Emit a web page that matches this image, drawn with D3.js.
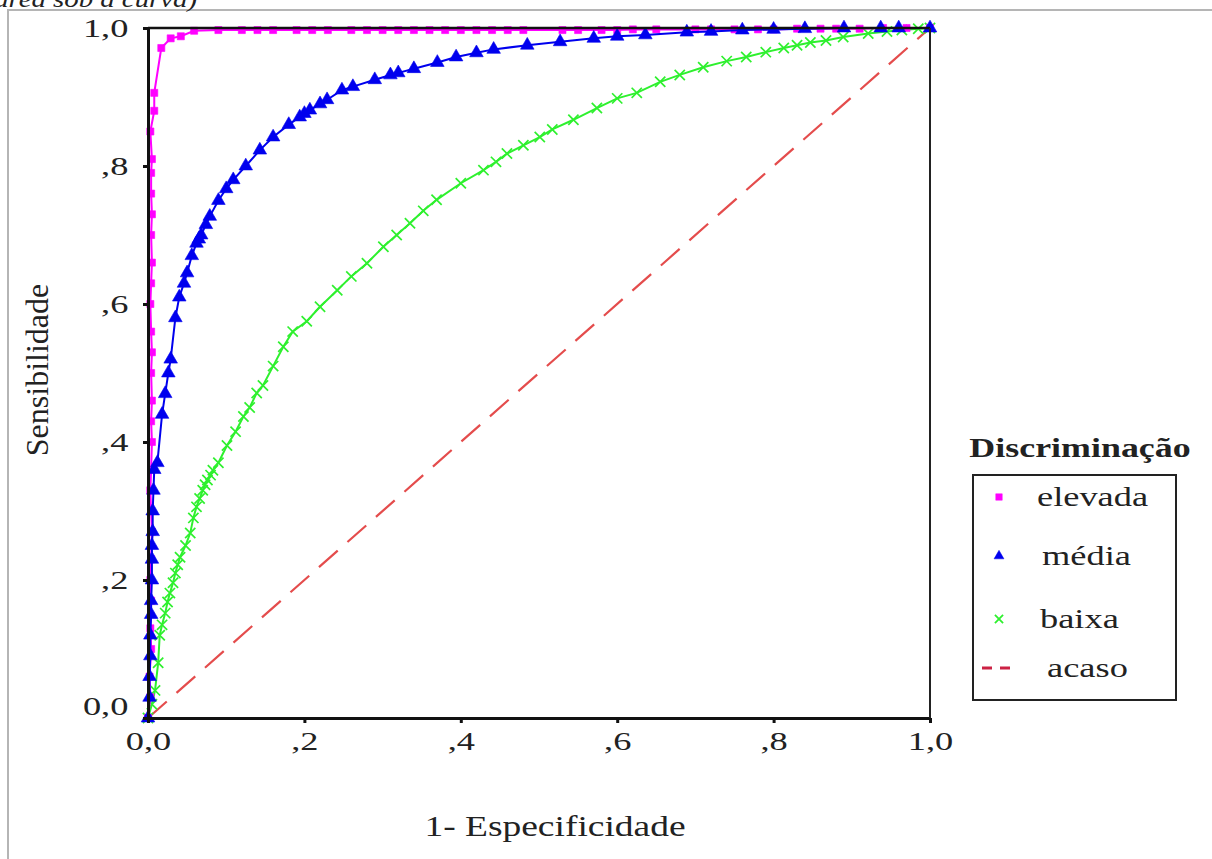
<!DOCTYPE html>
<html>
<head>
<meta charset="utf-8">
<script src="https://cdn.jsdelivr.net/npm/d3@7"></script>
<style>
  body { margin: 0; background: #fff; }
  text { font-family: "Liberation Serif", "Times New Roman", serif; fill: #222; }
</style>
</head>
<body>
<div id="chart"></div>
<script>
// ROC curves, [1-especificidade, sensibilidade]
var elevada = [
    [0, 0], [0.003, 0.03], [0.002, 0.06], [0.004, 0.1], [0.003, 0.13], [0.004, 0.17], [0.003, 0.2],
    [0.004, 0.23], [0.005, 0.27], [0.004, 0.3], [0.003, 0.33], [0.004, 0.36], [0.005, 0.4], [0.004, 0.43],
    [0.005, 0.46], [0.004, 0.5], [0.005, 0.53], [0.004, 0.56], [0.003, 0.6], [0.004, 0.63], [0.005, 0.66],
    [0.004, 0.7], [0.005, 0.73], [0.004, 0.76], [0.004, 0.79], [0.005, 0.81], [0.003, 0.85], [0.008, 0.88],
    [0.008, 0.906], [0.017, 0.971], [0.029, 0.985], [0.042, 0.988], [0.059, 0.996], [0.09, 0.997],
    [0.12, 0.997], [0.14, 0.997], [0.16, 0.997], [0.19, 0.997], [0.21, 0.997], [0.23, 0.997], [0.26, 0.997],
    [0.28, 0.997], [0.3, 0.997], [0.32, 0.997], [0.34, 0.997], [0.36, 0.997], [0.38, 0.997], [0.4, 0.997],
    [0.42, 0.997], [0.44, 0.997], [0.46, 0.997], [0.48, 0.997], [0.53, 0.997], [0.55, 0.997], [0.58, 0.997],
    [0.6, 0.997], [0.62, 0.998], [0.65, 0.998], [0.7, 0.998], [0.72, 0.998], [0.75, 0.998], [0.78, 0.998],
    [0.8, 0.998], [0.83, 0.999], [0.86, 0.999], [0.88, 0.999], [0.91, 0.999], [0.94, 1], [0.97, 1], [1, 1]
];

var media = [
    [0, 0], [0.002, 0.03], [0.002, 0.06], [0.003, 0.09], [0.003, 0.12], [0.004, 0.15], [0.004, 0.17],
    [0.005, 0.2], [0.005, 0.23], [0.005, 0.25], [0.006, 0.27], [0.006, 0.3], [0.007, 0.33], [0.008, 0.36],
    [0.012, 0.37], [0.018, 0.44], [0.022, 0.47], [0.026, 0.5], [0.029, 0.52], [0.035, 0.58], [0.04, 0.61],
    [0.046, 0.63], [0.05, 0.645], [0.056, 0.67], [0.062, 0.688], [0.065, 0.694], [0.068, 0.7], [0.074, 0.715],
    [0.079, 0.727], [0.09, 0.75], [0.1, 0.767], [0.109, 0.78], [0.125, 0.8], [0.143, 0.823], [0.16, 0.842],
    [0.18, 0.86], [0.194, 0.871], [0.2, 0.876], [0.207, 0.881], [0.22, 0.89], [0.229, 0.896], [0.248, 0.91],
    [0.262, 0.915], [0.29, 0.925], [0.31, 0.932], [0.32, 0.935], [0.34, 0.941], [0.37, 0.95], [0.394, 0.958],
    [0.42, 0.964], [0.442, 0.969], [0.485, 0.975], [0.527, 0.98], [0.57, 0.985], [0.6, 0.988], [0.636, 0.99],
    [0.689, 0.994], [0.72, 0.995], [0.76, 0.997], [0.8, 0.998], [0.84, 0.999], [0.89, 1], [0.937, 1],
    [0.96, 1], [1, 1]
];

var baixa = [
    [0, 0], [0.005, 0.02], [0.009, 0.04], [0.013, 0.08], [0.015, 0.12], [0.018, 0.135], [0.022, 0.152],
    [0.025, 0.168], [0.028, 0.181], [0.032, 0.196], [0.035, 0.21], [0.038, 0.222], [0.041, 0.233],
    [0.048, 0.25], [0.054, 0.268], [0.058, 0.29], [0.062, 0.306], [0.066, 0.318], [0.07, 0.33],
    [0.073, 0.338], [0.076, 0.345], [0.08, 0.352], [0.083, 0.359], [0.09, 0.37], [0.101, 0.395],
    [0.112, 0.415], [0.122, 0.437], [0.13, 0.45], [0.139, 0.471], [0.147, 0.482], [0.16, 0.51], [0.173, 0.538],
    [0.185, 0.56], [0.203, 0.575], [0.22, 0.596], [0.242, 0.62], [0.26, 0.64], [0.28, 0.659], [0.301, 0.683],
    [0.318, 0.7], [0.335, 0.717], [0.352, 0.735], [0.369, 0.751], [0.4, 0.775], [0.429, 0.794], [0.445, 0.806],
    [0.459, 0.818], [0.48, 0.83], [0.501, 0.842], [0.517, 0.853], [0.544, 0.867], [0.574, 0.884], [0.6, 0.898],
    [0.625, 0.906], [0.655, 0.922], [0.68, 0.932], [0.71, 0.943], [0.74, 0.952], [0.765, 0.958], [0.79, 0.965],
    [0.813, 0.971], [0.83, 0.975], [0.847, 0.979], [0.867, 0.982], [0.889, 0.987], [0.921, 0.992],
    [0.945, 0.995], [0.964, 0.997], [0.985, 0.999], [1, 1]
];

var acaso = [[0, 0], [1, 1]];

var tickValues = [0, 0.2, 0.4, 0.6, 0.8, 1];
var tickLabels = ["0,0", ",2", ",4", ",6", ",8", "1,0"];

var legendNames = ["elevada", "média", "baixa", "acaso"];
var colors = {elevada: "#ff00ff", media: "#0000ee", baixa: "#2ef02e", acaso: "#e44c4c"};

var W = 1212, H = 859;
var svg = d3.select("#chart").append("svg")
    .attr("width", W)
    .attr("height", H);

// page frame
svg.append("rect")
    .attr("x", 8).attr("y", 10)
    .attr("width", W + 20).attr("height", H + 20)
    .attr("fill", "none")
    .attr("stroke", "#b5b5b5")
    .attr("stroke-width", 2);

// caption cut at the top of the page
svg.append("text")
    .attr("transform", "translate(197,7) scale(1.2,1)")
    .attr("text-anchor", "end")
    .style("font-style", "italic")
    .style("font-size", "24px")
    .text("(área sob a curva)");

var x = d3.scaleLinear().domain([0, 1]).range([148, 930]);
var y = d3.scaleLinear().domain([0, 1]).range([718, 28]);

var line = d3.line()
    .x(function (d) { return x(d[0]); })
    .y(function (d) { return y(d[1]); });

// chance line
svg.append("path")
    .datum(acaso)
    .attr("d", line)
    .attr("fill", "none")
    .attr("stroke", colors.acaso)
    .attr("stroke-width", 2.2)
    .attr("stroke-dasharray", "25,13");

function drawSeries(data, color, symbol, size, filled) {
    svg.append("path")
        .datum(data)
        .attr("d", line)
        .attr("fill", "none")
        .attr("stroke", color)
        .attr("stroke-width", 2);

    svg.append("g").selectAll("path")
        .data(data)
        .enter()
        .append("path")
        .attr("transform", function (d) {
            return "translate(" + x(d[0]) + "," + y(d[1]) + ")";
        })
        .attr("d", d3.symbol().type(symbol).size(size))
        .attr("fill", filled ? color : "none")
        .attr("stroke", color)
        .attr("stroke-width", filled ? 0.6 : 1.7);
}

drawSeries(baixa, colors.baixa, d3.symbolX, 70, false);
drawSeries(elevada, colors.elevada, d3.symbolSquare, 50, true);
drawSeries(media, colors.media, d3.symbolTriangle, 80, true);

// axes
var yAxis = d3.axisLeft(y)
    .tickValues(tickValues)
    .tickSize(5)
    .tickSizeOuter(0)
    .tickFormat(function (d, i) { return tickLabels[i]; });

var gy = svg.append("g")
    .attr("transform", "translate(" + x(0) + ",0)")
    .call(yAxis);
gy.select(".domain").attr("stroke-width", 3).attr("stroke", "#111");
gy.selectAll(".tick line").attr("stroke-width", 3).attr("stroke", "#111");
gy.selectAll(".tick text")
    .attr("x", -14)
    .attr("dy", function (d) { return d === 0 ? "-0.15em" : "0.32em"; })
    .attr("transform", "scale(1.4,1)")
    .style("font-size", "26px")
    .style("font-family", "Liberation Serif, serif")
    .attr("fill", "#333");

var xAxis = d3.axisBottom(x)
    .tickValues(tickValues)
    .tickSize(5)
    .tickSizeOuter(0)
    .tickFormat(function (d, i) { return tickLabels[i]; });

var gx = svg.append("g")
    .attr("transform", "translate(0," + y(0) + ")")
    .call(xAxis);
gx.select(".domain").attr("stroke-width", 3).attr("stroke", "#111");
gx.selectAll(".tick line").attr("stroke-width", 3).attr("stroke", "#111");
gx.selectAll(".tick text")
    .attr("y", 14)
    .attr("x", 0)
    .attr("transform", "scale(1.4,1)")
    .style("font-size", "26px")
    .style("font-family", "Liberation Serif, serif")
    .attr("fill", "#333");

// top and right edges of the box
svg.append("line")
    .attr("x1", x(0)).attr("x2", x(1))
    .attr("y1", y(1)).attr("y2", y(1))
    .attr("stroke", "#111").attr("stroke-width", 2.5);
svg.append("line")
    .attr("x1", x(1)).attr("x2", x(1))
    .attr("y1", y(1)).attr("y2", y(0))
    .attr("stroke", "#222").attr("stroke-width", 2);

// axis titles
svg.append("text")
    .attr("transform", "translate(555,836) scale(1.25,1)")
    .attr("text-anchor", "middle")
    .style("font-size", "30px")
    .text("1- Especificidade");

svg.append("text")
    .attr("transform", "translate(48,370) rotate(-90)")
    .attr("text-anchor", "middle")
    .style("font-size", "32px")
    .text("Sensibilidade");

// legend
svg.append("text")
    .attr("transform", "translate(1080,457) scale(1.33,1)")
    .attr("text-anchor", "middle")
    .style("font-size", "27px")
    .style("font-weight", "bold")
    .text("Discriminação");

svg.append("rect")
    .attr("x", 973).attr("y", 475)
    .attr("width", 203).attr("height", 225)
    .attr("fill", "none")
    .attr("stroke", "#222")
    .attr("stroke-width", 2);

var legendY = [497, 556, 619, 668];
var legendTextX = [1037, 1042, 1040, 1047];
var legendSymbols = [d3.symbolSquare, d3.symbolTriangle, d3.symbolX, null];
var legendColors = [colors.elevada, colors.media, colors.baixa, "#cc2244"];

legendNames.forEach(function (name, i) {
    if (legendSymbols[i]) {
        svg.append("path")
            .attr("transform", "translate(999," + legendY[i] + ")")
            .attr("d", d3.symbol().type(legendSymbols[i]).size(i === 2 ? 45 : 42))
            .attr("fill", i === 2 ? "none" : legendColors[i])
            .attr("stroke", legendColors[i])
            .attr("stroke-width", i === 2 ? 1.8 : 0.5);
    } else {
        svg.append("line")
            .attr("x1", 982).attr("x2", 1014)
            .attr("y1", legendY[i]).attr("y2", legendY[i])
            .attr("stroke", legendColors[i])
            .attr("stroke-width", 3)
            .attr("stroke-dasharray", "10,8");
    }
    svg.append("text")
        .attr("transform", "translate(" + legendTextX[i] + "," + (legendY[i] + 9) + ") scale(1.3,1)")
        .style("font-size", "28px")
        .text(name);
});
</script>
</body>
</html>
